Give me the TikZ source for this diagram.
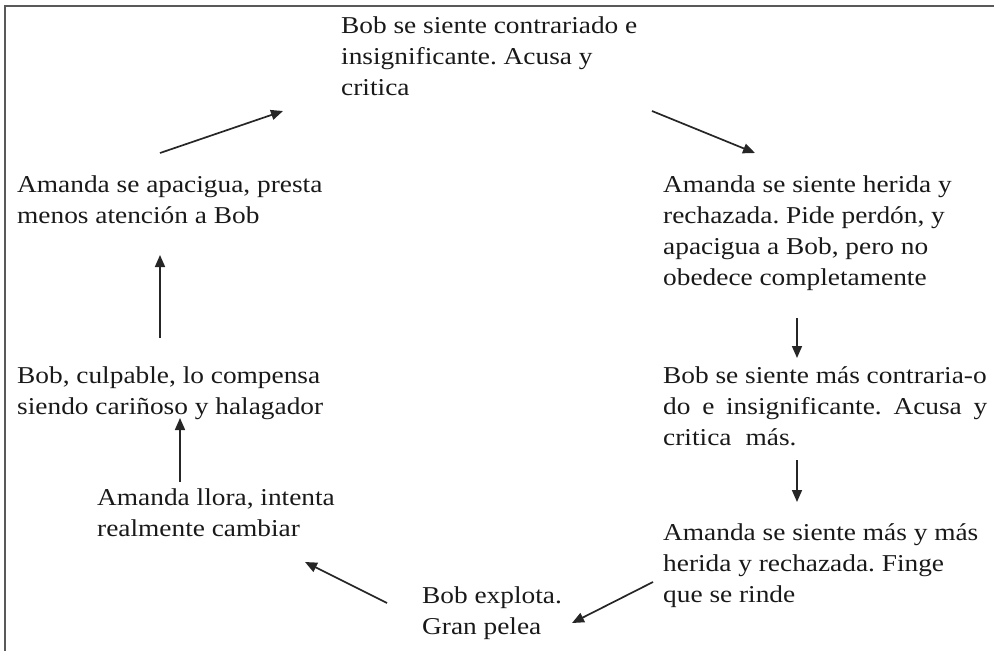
\documentclass[tikz,border=0pt]{standalone}
\usepackage{fontspec}
\setmainfont{Liberation Serif}[FakeStretch=1.13]
\usetikzlibrary{arrows.meta}
\frenchspacing

\begin{document}
\begin{tikzpicture}[x=1pt, y=-1pt,
    txt/.style={anchor=base west, inner sep=0pt, align=left, text=black!90,
      font=\fontsize{24.2}{31}\selectfont},
    arr/.style={line width=1.7pt, draw=black!85,
      -{Triangle[length=12pt, width=10pt]}}]
      \useasboundingbox (0,0) rectangle (994,651);
      \draw[black!65, line width=1.3pt] (5,651) -- (5,6) -- (994,6);

      % the cycle, clockwise from the top (nodes sit on their last baseline)
      \node[txt] (bob1) at (341,95) {Bob se siente contrariado e\\insignificante. Acusa y\\critica};
      \node[txt] (amanda1) at (663,285) {Amanda se siente herida y\\rechazada. Pide perdón, y\\apacigua a Bob, pero no\\obedece completamente};
      \node[txt] (bob2) at (663,445) {Bob se siente más contraria-o\\\makebox[324pt][s]{do e insignificante. Acusa y}\\critica\hspace{0.3em} más.};
      \node[txt] (amanda2) at (663,602) {Amanda se siente más y más\\herida y rechazada. Finge\\que se rinde};
      \node[txt] (bob3) at (422,634) {Bob explota.\\Gran pelea};
      \node[txt] (amanda3) at (97,536) {Amanda llora, intenta\\realmente cambiar};
      \node[txt] (bob4) at (17,414) {Bob, culpable, lo compensa\\siendo cariñoso y halagador};
      \node[txt] (amanda4) at (17,223) {Amanda se apacigua, presta\\menos atención a Bob};

      \coordinate (o1) at (160,153);  \coordinate (i1) at (283,111);
      \coordinate (o2) at (652,111);  \coordinate (i2) at (755,153);
      \coordinate (o3) at (797,318);  \coordinate (i3) at (797,358);
      \coordinate (o4) at (797,460);  \coordinate (i4) at (797,502);
      \coordinate (o5) at (653,582);  \coordinate (i5) at (572,623);
      \coordinate (o6) at (387,603);  \coordinate (i6) at (305,562);
      \coordinate (o7) at (180,482);  \coordinate (i7) at (180,418);
      \coordinate (o8) at (160,338);  \coordinate (i8) at (160,255);

      \foreach \k in {1,...,8}
        \draw[arr] (o\k) -- (i\k);
    \end{tikzpicture}
\end{document}
